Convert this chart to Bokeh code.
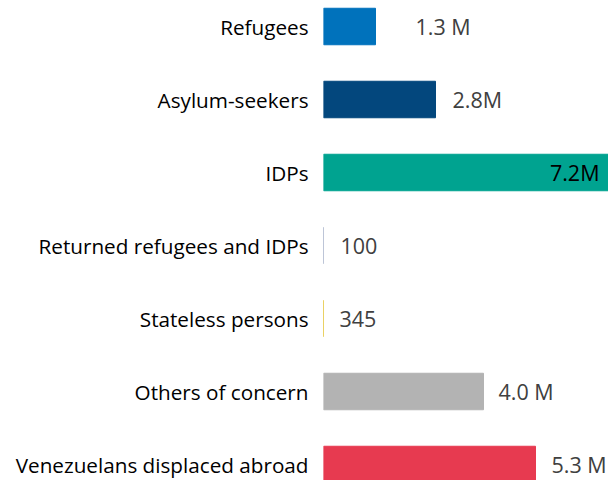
from bokeh.plotting import figure
from bokeh.models import Range1d, FixedTicker, ColumnDataSource
from bokeh.core.properties import value
from bokeh.embed import file_html
from bokeh.resources import INLINE

categories = ["Refugees", "Asylum-seekers", "IDPs", "Returned refugees and IDPs",
              "Stateless persons", "Others of concern", "Venezuelans displaced abroad"]
values = [1.3e6, 2.8e6, 7.2e6, 100, 345, 4.0e6, 5.3e6]
value_labels = ["1.3 M", "2.8M", "7.2M", "100", "345", "4.0 M", "5.3 M"]

colors = ["#0072BC", "#03477D", "#00A390", "#A7B1C9", "#E3C233", "#B3B3B3", "#E73A50"]
label_colors = ["#404040", "#404040", "#000000", "#404040", "#404040", "#404040", "#404040"]
label_offsets = [40, 17, -12, 17, 16, 15, 16]
label_aligns = ["left", "left", "right", "left", "left", "left", "left"]

ypos = list(range(len(categories)))

src = ColumnDataSource(dict(y=ypos, v=values, lab=value_labels, c=colors,
                            lc=label_colors, off=label_offsets, al=label_aligns))

# frame: 323..608 px horizontally (40 px per million), rows every 73 px starting at y=26
p = figure(width=608, height=480, output_backend="svg", toolbar_location=None,
           x_range=Range1d(0, 7.125e6), y_range=Range1d(6.219, -0.3562),
           x_axis_location=None, y_axis_location="left",
           min_border_left=323, min_border_right=0, min_border_top=0, min_border_bottom=0)
p.outline_line_color = None
p.grid.visible = False
p.background_fill_color = "white"

p.hbar(y="y", left=0, right="v", height=0.5, fill_color="c", line_color="c",
       line_width=1, source=src)
p.text(x="v", y="y", text="lab", x_offset="off", text_align="al", text_baseline="middle",
       text_color="lc", text_font=value("Open Sans"), text_font_size="21.5px", source=src)

ax = p.yaxis[0]
ax.ticker = FixedTicker(ticks=ypos)
ax.major_label_overrides = {i: c for i, c in enumerate(categories)}
ax.axis_line_color = None
ax.major_tick_line_color = None
ax.minor_tick_line_color = None
ax.major_tick_out = 0
ax.major_label_standoff = 15
ax.major_label_text_font = "Open Sans"
ax.major_label_text_font_size = "20.7px"
ax.major_label_text_color = "#000000"

open("out.html", "w").write(file_html(p, INLINE))
